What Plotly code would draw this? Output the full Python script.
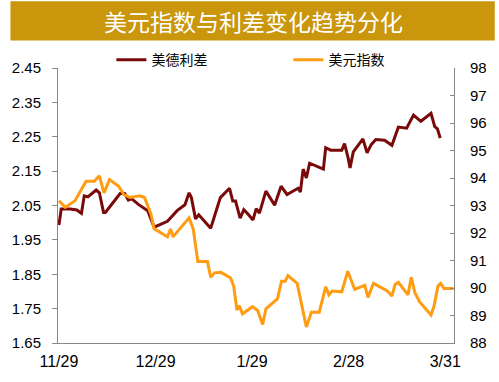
import plotly.graph_objects as go

# x positions in trading-day units (0 = 11/29)
tick_vals = [0, 21, 42, 63, 84]
tick_text = ["11/29", "12/29", "1/29", "2/28", "3/31"]

spread_x = [0, 0.5, 2.5, 3.9, 4.9, 5.5, 6.3, 8.1, 8.8, 9.7, 10.1, 11.2, 13.3, 14.3, 15.1, 15.8,
            17.2, 19.3, 20.7, 23.6, 25.7, 27.4, 28.3, 28.8, 29.7, 30.4, 33.0, 35.1, 37.1, 37.8,
            38.4, 39.4, 40.2, 41.1, 42.2, 42.9, 43.6, 45.0, 46.9, 48.3, 49.6, 52.0, 52.5, 53.1,
            53.8, 54.5, 57.5, 58.0, 59.1, 61.5, 62.1, 62.9, 63.3, 64.0, 66.1, 67.0, 67.9, 68.9,
            70.8, 72.4, 73.8, 75.6, 77.1, 78.7, 80.9, 81.7, 82.3, 82.9]
spread_y = [1.993, 2.04, 2.04, 2.037, 2.027, 2.078, 2.075, 2.095, 2.087, 2.03, 2.03, 2.05, 2.085,
            2.085, 2.066, 2.07, 2.054, 2.035, 1.987, 2.004, 2.035, 2.052, 2.087, 2.073, 2.011,
            2.023, 1.984, 2.073, 2.1, 2.063, 2.063, 2.013, 2.038, 2.025, 2.008, 2.041, 2.028,
            2.092, 2.051, 2.106, 2.082, 2.1, 2.089, 2.156, 2.13, 2.173, 2.156, 2.218, 2.211,
            2.211, 2.23, 2.187, 2.159, 2.206, 2.244, 2.203, 2.227, 2.242, 2.24, 2.225, 2.278,
            2.275, 2.313, 2.295, 2.318, 2.28, 2.273, 2.246]

dxy_x = [0, 1.4, 3.5, 5.9, 7.7, 8.8, 9.8, 11.0, 13.0, 14.1, 15.5, 17.6, 18.6, 20.0, 20.7, 23.6,
         24.3, 24.8, 28.3, 29.2, 30.2, 32.3, 33.0, 33.8, 35.2, 37.3, 38.0, 38.7, 39.2, 39.9,
         42.1, 43.2, 44.3, 45.0, 47.5, 48.4, 49.2, 49.8, 51.8, 53.8, 54.9, 56.6, 58.0, 58.7,
         59.4, 61.5, 62.8, 64.3, 66.5, 67.2, 68.4, 70.3, 71.4, 72.4, 73.1, 73.8, 75.9, 76.6,
         77.4, 78.4, 80.9, 81.6, 82.4, 83.0, 83.7, 85.8]
dxy_y = [93.17, 92.93, 93.17, 93.88, 93.88, 94.08, 93.46, 93.94, 93.70, 93.40, 93.29, 93.35,
         93.29, 92.69, 92.15, 91.86, 92.15, 91.86, 92.55, 92.15, 90.96, 90.96, 90.39, 90.55,
         90.57, 90.37, 90.07, 89.2, 89.36, 89.06, 89.32, 89.18, 88.67, 89.24, 89.6, 90.25,
         90.25, 90.45, 90.17, 88.58, 89.12, 89.12, 90.04, 89.75, 89.89, 89.86, 90.61, 89.95,
         90.1, 89.66, 90.17, 90.01, 89.89, 89.71, 90.13, 90.21, 89.75, 90.39, 89.83, 89.5,
         89.02, 89.36, 90.07, 90.17, 89.98, 89.98]

RED = "#7A0A0A"
ORANGE = "#FF9C12"
TICKFONT = dict(family="Liberation Sans, Arial", size=15, color="#000000")

fig = go.Figure()
fig.add_trace(go.Scatter(x=spread_x, y=spread_y, mode="lines", name="美德利差",
                         line=dict(color=RED, width=3), yaxis="y"))
fig.add_trace(go.Scatter(x=dxy_x, y=dxy_y, mode="lines", name="美元指数",
                         line=dict(color=ORANGE, width=3), yaxis="y2"))

W, H = 499, 382
L, R, T, B = 49, 42, 68, 34
pw, ph = W - L - R, H - T - B

def px(xp):
    return (xp - L) / pw

def py(yp):
    return (H - B - yp) / ph

fig.update_layout(
    width=W, height=H,
    margin=dict(l=L, r=R, t=T, b=B),
    paper_bgcolor="white", plot_bgcolor="white",
    showlegend=True,
    legend=dict(orientation="h", x=px(104), y=py(60), xanchor="left", yanchor="middle",
                font=dict(family="Noto Sans CJK SC", size=14, color="#000"),
                entrywidth=132, entrywidthmode="pixels", bgcolor="rgba(0,0,0,0)",
                itemwidth=30),
    xaxis=dict(range=[-0.2, 85.9], tickvals=tick_vals, ticktext=tick_text,
               showgrid=False, zeroline=False, showline=True, linecolor="#888888",
               linewidth=1, ticks="", tickfont=dict(family="Liberation Sans, Arial", size=16,
                                                    color="#000"),
               ticklabelstandoff=4),
    yaxis=dict(range=[1.65, 2.45], dtick=0.1, tick0=1.65, tickformat=".2f",
               showgrid=False, zeroline=False, showline=True, linecolor="#888888",
               linewidth=1, ticks="outside", ticklen=5, tickcolor="#888888",
               tickfont=TICKFONT, ticklabelstandoff=8),
    yaxis2=dict(range=[88, 98], dtick=1, overlaying="y", side="right",
                showgrid=False, zeroline=False, showline=True, linecolor="#888888",
                linewidth=1, ticks="inside", ticklen=4, tickcolor="#888888",
                tickfont=TICKFONT, ticklabelstandoff=12),
    shapes=[dict(type="rect", xref="paper", yref="paper", x0=px(0), x1=px(W),
                 y0=py(40), y1=py(0), fillcolor="#C9960C", line=dict(width=0),
                 layer="below")],
    annotations=[dict(text="美元指数与利差变化趋势分化", xref="paper", yref="paper",
                      x=px(250), y=py(20), xanchor="center", yanchor="middle",
                      showarrow=False,
                      font=dict(family="Noto Sans CJK SC", size=23, color="white"))],
)

fig.write_html("out.html")
